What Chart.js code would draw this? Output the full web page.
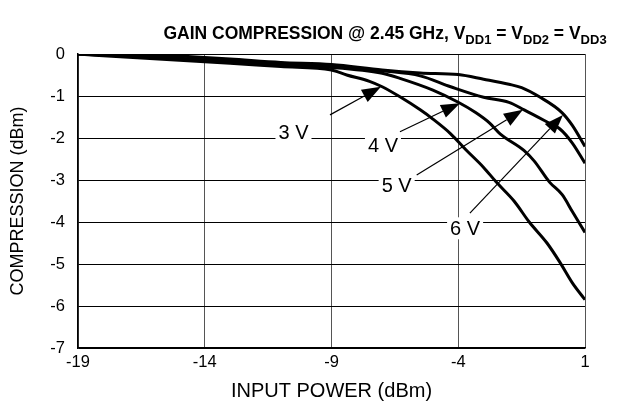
<!DOCTYPE html>
<html>
<head>
<meta charset="utf-8">
<script src="https://cdn.jsdelivr.net/npm/chart.js@4"></script>
<style>
  html, body { margin: 0; padding: 0; background: #fff; }
</style>
</head>
<body>
<canvas id="chart" width="620" height="413"></canvas>
<script>
// tick labels
const xTicks = [-19, -14, -9, -4, 1];
const yTicks = [0, -1, -2, -3, -4, -5, -6, -7];

// series: input power (dBm) -> compression (dB)
const in3V = [-19, -17, -15, -13, -11, -9, -8.4, -7.5, -7, -6.3, -5.5, -5, -4.3, -3.7, -3, -2.5, -1.8, -1.2, -0.5, 0, 0.5, 1];
const comp3V = [0, -0.08, -0.15, -0.22, -0.3, -0.38, -0.5, -0.65, -0.78, -1.02, -1.33, -1.55, -1.9, -2.28, -2.7, -3.05, -3.5, -4.0, -4.5, -4.95, -5.45, -5.85];

const in4V = [-19, -17, -15, -13, -11, -9, -7, -6.3, -5, -4, -3.3, -2.75, -2.35, -1.4, -1, -0.4, 0.1, 0.5, 1];
const comp4V = [0, -0.05, -0.12, -0.2, -0.27, -0.32, -0.46, -0.58, -0.86, -1.15, -1.4, -1.65, -1.9, -2.3, -2.55, -3.05, -3.35, -3.75, -4.25];

const in5V = [-19, -17, -15, -13, -11, -9, -7, -5.5, -4.3, -3, -2, -1.4, -0.4, 0, 0.5, 1];
const comp5V = [0, -0.03, -0.1, -0.17, -0.22, -0.28, -0.4, -0.52, -0.78, -1.03, -1.15, -1.33, -1.65, -1.78, -2.12, -2.6];

const in6V = [-19, -17, -15, -13, -11, -9, -7, -5.5, -4, -3, -2, -1.5, -0.8, 0.1, 0.5, 1];
const comp6V = [0, 0, -0.05, -0.12, -0.2, -0.25, -0.38, -0.45, -0.49, -0.6, -0.72, -0.8, -1.02, -1.4, -1.7, -2.2];

// curve labels, in data units: text centre, arrow tail, arrow tip
const curveNames = ['3 V', '4 V', '5 V', '6 V'];
const labelAt = [[-10.5, -1.86], [-6.97, -2.17], [-6.43, -3.12], [-3.73, -4.15]];
const arrowFrom = [[-9.06, -1.45], [-6.3, -1.85], [-5.64, -2.88], [-3.54, -3.79]];
const arrowTo = [[-7.05, -0.78], [-3.93, -1.17], [-1.45, -1.33], [0.13, -1.45]];

const FONT = '"Liberation Sans", Arial, sans-serif';

const toPoints = (xs, ys) => xs.map((x, i) => ({ x, y: ys[i] }));

const seriesStyle = {
    borderColor: '#000',
    borderWidth: 3,
    pointRadius: 0,
    fill: false,
    cubicInterpolationMode: 'monotone',
};

const titlePlugin = {
    id: 'subTitle',
    afterDraw(chart) {
        const ctx = chart.ctx;
        const parts = [
            ['GAIN COMPRESSION @ 2.45 GHz, V', false],
            ['DD1', true],
            [' = V', false],
            ['DD2', true],
            [' = V', false],
            ['DD3', true],
        ];
        const big = 'bold 17.5px ' + FONT;
        const small = 'bold 13px ' + FONT;
        ctx.save();
        ctx.fillStyle = '#000';
        ctx.textBaseline = 'alphabetic';
        ctx.textAlign = 'left';
        let total = 0;
        parts.forEach(([t, sub]) => {
            ctx.font = sub ? small : big;
            total += ctx.measureText(t).width;
        });
        let x = 385 - total / 2;
        parts.forEach(([t, sub]) => {
            ctx.font = sub ? small : big;
            ctx.fillText(t, x, sub ? 44 : 39);
            x += ctx.measureText(t).width;
        });
        ctx.restore();
    },
};

const labelPlugin = {
    id: 'curveLabels',
    afterDatasetsDraw(chart) {
        const ctx = chart.ctx;
        const xs = chart.scales.x;
        const ys = chart.scales.y;
        ctx.save();
        ctx.font = '20px ' + FONT;
        ctx.textAlign = 'center';
        ctx.textBaseline = 'middle';
        curveNames.forEach((name, i) => {
            const tx = xs.getPixelForValue(labelAt[i][0]);
            const ty = ys.getPixelForValue(labelAt[i][1]);
            const w = ctx.measureText(name).width;
            ctx.fillStyle = '#fff';
            ctx.fillRect(tx - w / 2 - 3, ty - 11, w + 6, 22);
            ctx.fillStyle = '#000';
            ctx.fillText(name, tx, ty + 1);

            const x0 = xs.getPixelForValue(arrowFrom[i][0]);
            const y0 = ys.getPixelForValue(arrowFrom[i][1]);
            const x1 = xs.getPixelForValue(arrowTo[i][0]);
            const y1 = ys.getPixelForValue(arrowTo[i][1]);
            const ang = Math.atan2(y1 - y0, x1 - x0);
            const len = 19;
            const half = 7;
            const bx = x1 - len * Math.cos(ang);
            const by = y1 - len * Math.sin(ang);
            ctx.strokeStyle = '#000';
            ctx.lineWidth = 1.2;
            ctx.beginPath();
            ctx.moveTo(x0, y0);
            ctx.lineTo(bx, by);
            ctx.stroke();
            ctx.beginPath();
            ctx.moveTo(x1, y1);
            ctx.lineTo(bx + half * Math.sin(ang), by - half * Math.cos(ang));
            ctx.lineTo(bx - half * Math.sin(ang), by + half * Math.cos(ang));
            ctx.closePath();
            ctx.fill();
        });
        ctx.restore();
    },
};

const tickFont = { family: FONT, size: 16.5 };

new Chart(document.getElementById('chart'), {
    type: 'line',
    data: {
        datasets: [
            { label: '3 V', data: toPoints(in3V, comp3V), ...seriesStyle },
            { label: '4 V', data: toPoints(in4V, comp4V), ...seriesStyle },
            { label: '5 V', data: toPoints(in5V, comp5V), ...seriesStyle },
            { label: '6 V', data: toPoints(in6V, comp6V), ...seriesStyle },
        ],
    },
    options: {
        responsive: false,
        devicePixelRatio: 1,
        animation: false,
        layout: { padding: { top: 54, right: 35, left: 0, bottom: 0 } },
        plugins: {
            legend: { display: false },
            tooltip: { enabled: false },
        },
        scales: {
            x: {
                type: 'linear',
                min: -19,
                max: 1,
                afterBuildTicks: (scale) => { scale.ticks = xTicks.map((v) => ({ value: v })); },
                afterFit: (scale) => { scale.height = 65; },
                ticks: { color: '#000', font: tickFont, padding: 5 },
                grid: { color: '#555', lineWidth: 1, drawTicks: false },
                border: { color: '#000', width: 1.5 },
                title: {
                    display: true,
                    text: 'INPUT POWER (dBm)',
                    color: '#000',
                    font: { family: FONT, size: 20 },
                    padding: { top: 0, bottom: 10 },
                },
            },
            y: {
                type: 'linear',
                min: -7,
                max: 0,
                afterBuildTicks: (scale) => { scale.ticks = yTicks.map((v) => ({ value: v })); },
                afterFit: (scale) => { scale.width = 78; },
                ticks: { color: '#000', font: tickFont, padding: 13 },
                grid: { color: '#000', lineWidth: 1, drawTicks: false },
                border: { color: '#000', width: 1.5 },
                title: {
                    display: true,
                    text: 'COMPRESSION (dBm)',
                    color: '#000',
                    font: { family: FONT, size: 18 },
                    padding: { top: 7, bottom: 0 },
                },
            },
        },
    },
    plugins: [titlePlugin, labelPlugin],
});
</script>
</body>
</html>
